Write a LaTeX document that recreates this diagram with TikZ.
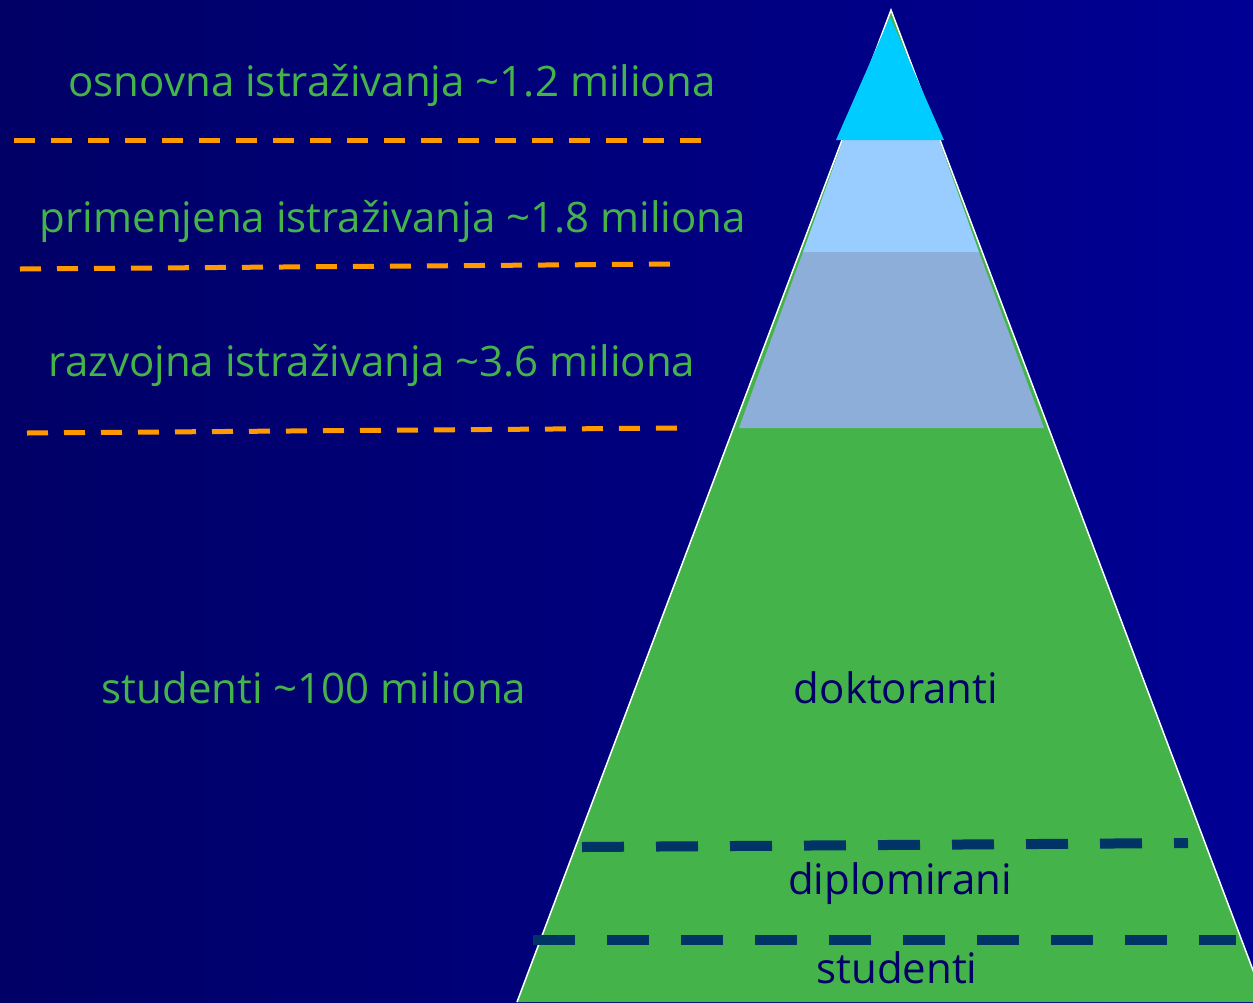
\documentclass[tikz,border=0pt]{standalone}
\usepackage{fontspec}
\setmainfont{Open Sans}
\definecolor{bgleft}{RGB}{0,0,102}
\definecolor{bgright}{RGB}{0,0,148}
\definecolor{leafgreen}{RGB}{68,180,74}
\definecolor{deepnavy}{RGB}{0,0,102}
\definecolor{dashorange}{RGB}{255,153,0}
\definecolor{dashblue}{RGB}{0,51,102}
\definecolor{skyband}{RGB}{153,204,255}
\definecolor{mistband}{RGB}{141,174,216}
\definecolor{tipcyan}{RGB}{0,204,255}

\begin{document}
\begin{tikzpicture}[x=1pt,y=-1pt,
    lbl/.style={text=leafgreen,font=\fontsize{42}{46}\selectfont,anchor=base,inner sep=0pt},
    inlbl/.style={lbl,text=deepnavy},
    orangedash/.style={draw=dashorange,line width=5pt,dash pattern=on 21pt off 16pt},
    bluedash/.style={draw=dashblue,line width=10pt,dash pattern=on 42pt off 32pt}]
  \useasboundingbox (0,0) rectangle (1253,1002);
  \shade[left color=bgleft,right color=bgright] (0,0) rectangle (1253,1002);
  % pyramid
  \coordinate (apex) at (891,10);
  \coordinate (baseL) at (517,1002);
  \coordinate (baseR) at (1265,1002);
  \fill[leafgreen] (apex) -- (baseR) -- (baseL) -- cycle;
  \fill[mistband] (739,428) -- (1044,428) -- (979,252) -- (803,252) -- cycle;
  \fill[skyband] (803,252) -- (979,252) -- (939,140) -- (843,140) -- cycle;
  \draw[white,line width=1.5pt] (baseL) -- (apex) -- (baseR);
  \fill[tipcyan] (836,140) -- (944,140) -- (890,17) -- cycle;
  % dashed separators
  \coordinate (o1a) at (14,140);  \coordinate (o1b) at (708,140);
  \coordinate (o2a) at (20,269);  \coordinate (o2b) at (676,264);
  \coordinate (o3a) at (27,433);  \coordinate (o3b) at (683,428);
  \draw[orangedash] (o1a) -- (o1b);
  \draw[orangedash] (o2a) -- (o2b);
  \draw[orangedash] (o3a) -- (o3b);
  \coordinate (b1a) at (582,847); \coordinate (b1b) at (1188,843);
  \coordinate (b2a) at (533,940); \coordinate (b2b) at (1236,940);
  \draw[bluedash] (b1a) -- (b1b);
  \draw[bluedash] (b2a) -- (b2b);
  % labels
  \node[lbl] (osnovna) at (392,96) {osnovna istraživanja \textasciitilde1.2 miliona};
  \node[lbl] (primenjena) at (393,232) {primenjena istraživanja \textasciitilde1.8 miliona};
  \node[lbl] (razvojna) at (372,376) {razvojna istraživanja \textasciitilde3.6 miliona};
  \node[lbl] (studlbl) at (314,703) {studenti \textasciitilde100 miliona};
  \node[inlbl] (doktoranti) at (896,703) {doktoranti};
  \node[inlbl] (diplomirani) at (900,894) {diplomirani};
  \node[inlbl] (studenti) at (897,983) {studenti};
\end{tikzpicture}
\end{document}
